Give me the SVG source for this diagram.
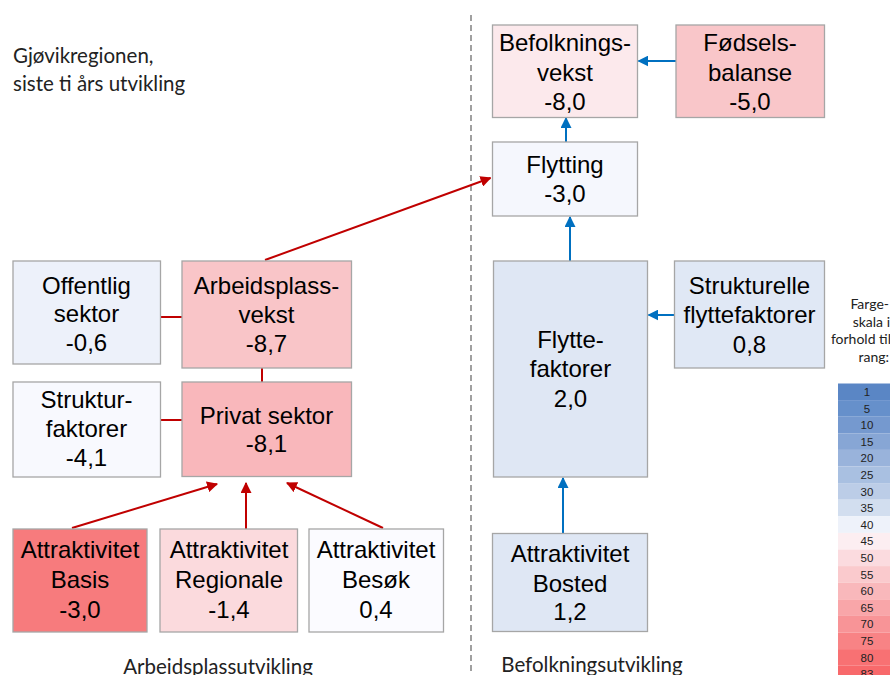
<svg xmlns="http://www.w3.org/2000/svg" width="890" height="675" viewBox="0 0 890 675">
<style>
.box{stroke:#A6A6A6;stroke-width:1.3}
.t{font-family:"Liberation Sans",Arial,sans-serif;font-size:24px;fill:#000;text-anchor:middle}
.c{font-family:Lato,"Open Sans",sans-serif;fill:#222}
.red{stroke:#C00000;stroke-width:2;fill:none}
.blue{stroke:#0070C0;stroke-width:2;fill:none}
.sc{font-family:"Liberation Sans",Arial,sans-serif;font-size:11.5px;fill:#222;text-anchor:middle}
</style>
<defs>
<marker id="ar" viewBox="0 0 10 10" refX="9" refY="5" markerWidth="5.5" markerHeight="5.5" orient="auto" markerUnits="strokeWidth"><path d="M0,0 L10,5 L0,10 z" fill="#C00000"/></marker>
<marker id="ab" viewBox="0 0 10 10" refX="9" refY="5" markerWidth="5.5" markerHeight="5.5" orient="auto" markerUnits="strokeWidth"><path d="M0,0 L10,5 L0,10 z" fill="#0070C0"/></marker>
</defs>
<rect width="890" height="675" fill="#fff"/>
<text class="c" font-size="20.5" x="13" y="63">Gjøvikregionen,</text>
<text class="c" font-size="20.5" x="13" y="91">siste ti års utvikling</text>
<line x1="471" y1="15" x2="471" y2="675" stroke="#A0A0A0" stroke-width="2" stroke-dasharray="6,4"/>
<g id="connectors">
<line class="red" x1="160" y1="317" x2="182" y2="317"/>
<line class="red" x1="160" y1="420" x2="182" y2="420"/>
<line class="red" x1="262" y1="368" x2="262" y2="382"/>
<line class="red" x1="265" y1="260" x2="490.5" y2="178" marker-end="url(#ar)"/>
<line class="red" x1="72" y1="528" x2="217" y2="484" marker-end="url(#ar)"/>
<line class="red" x1="246" y1="529" x2="246" y2="483" marker-end="url(#ar)"/>
<line class="red" x1="383" y1="528" x2="287" y2="483" marker-end="url(#ar)"/>
<line class="blue" x1="676" y1="61" x2="638.5" y2="61" marker-end="url(#ab)"/>
<line class="blue" x1="566" y1="142" x2="566" y2="118" marker-end="url(#ab)"/>
<line class="blue" x1="570" y1="261" x2="570" y2="217" marker-end="url(#ab)"/>
<line class="blue" x1="675" y1="315" x2="648.5" y2="315" marker-end="url(#ab)"/>
<line class="blue" x1="563" y1="533" x2="563" y2="478" marker-end="url(#ab)"/>
</g>
<g id="offentlig">
<rect class="box" x="13" y="261" width="147.5" height="103" fill="#EDF1FA"/>
<text class="t" x="86.5" y="294">Offentlig</text><text class="t" x="86.5" y="322">sektor</text><text class="t" x="86.5" y="351">-0,6</text>
</g>
<g id="arbeidsplassvekst">
<rect class="box" x="182" y="261" width="169.5" height="107" fill="#F9C5C8"/>
<text class="t" x="266.5" y="294">Arbeidsplass-</text><text class="t" x="266.5" y="323">vekst</text><text class="t" x="266.5" y="352">-8,7</text>
</g>
<g id="strukturfaktorer">
<rect class="box" x="13" y="382" width="147.5" height="95" fill="#F8F9FE"/>
<text class="t" x="86.5" y="408">Struktur-</text><text class="t" x="86.5" y="437">faktorer</text><text class="t" x="86.5" y="466">-4,1</text>
</g>
<g id="privat">
<rect class="box" x="182" y="382" width="169.5" height="94.5" fill="#F9B7BB"/>
<text class="t" x="266.5" y="424">Privat sektor</text><text class="t" x="266.5" y="452">-8,1</text>
</g>
<g id="basis">
<rect class="box" x="13" y="529" width="134" height="103" fill="#F77B7D"/>
<text class="t" x="80" y="558">Attraktivitet</text><text class="t" x="80" y="588">Basis</text><text class="t" x="80" y="618">-3,0</text>
</g>
<g id="regionale">
<rect class="box" x="160" y="529" width="137.5" height="103" fill="#FBDADD"/>
<text class="t" x="229" y="558">Attraktivitet</text><text class="t" x="229" y="588">Regionale</text><text class="t" x="229" y="618">-1,4</text>
</g>
<g id="besok">
<rect class="box" x="309" y="529" width="134.5" height="103" fill="#FBFBFF"/>
<text class="t" x="376" y="558">Attraktivitet</text><text class="t" x="376" y="588">Besøk</text><text class="t" x="376" y="618">0,4</text>
</g>
<g id="befolkningsvekst">
<rect class="box" x="492.5" y="25" width="145" height="92.5" fill="#FCE9EC"/>
<text class="t" x="565" y="51">Befolknings-</text><text class="t" x="565" y="81">vekst</text><text class="t" x="565" y="110">-8,0</text>
</g>
<g id="fodselsbalanse">
<rect class="box" x="676" y="25" width="148.5" height="92.5" fill="#F9C6C9"/>
<text class="t" x="750" y="51">Fødsels-</text><text class="t" x="750" y="81">balanse</text><text class="t" x="750" y="110">-5,0</text>
</g>
<g id="flytting">
<rect class="box" x="492.5" y="142" width="145" height="74" fill="#F5F7FD"/>
<text class="t" x="565" y="173">Flytting</text><text class="t" x="565" y="202">-3,0</text>
</g>
<g id="flyttefaktorer">
<rect class="box" x="493.5" y="261" width="154" height="216" fill="#DFE7F4"/>
<text class="t" x="570.5" y="348">Flytte-</text><text class="t" x="570.5" y="377">faktorer</text><text class="t" x="570.5" y="407">2,0</text>
</g>
<g id="strukturelle">
<rect class="box" x="674.5" y="261" width="150" height="107" fill="#E0E8F5"/>
<text class="t" x="749.5" y="294">Strukturelle</text><text class="t" x="749.5" y="323">flyttefaktorer</text><text class="t" x="749.5" y="353">0,8</text>
</g>
<g id="bosted">
<rect class="box" x="492.5" y="533.5" width="155" height="98" fill="#DFE7F4"/>
<text class="t" x="570" y="562">Attraktivitet</text><text class="t" x="570" y="592">Bosted</text><text class="t" x="570" y="620">1,2</text>
</g>
<text class="c" font-size="20.5" x="218" y="674" text-anchor="middle">Arbeidsplassutvikling</text>
<text class="c" font-size="20.5" x="592" y="672" text-anchor="middle">Befolkningsutvikling</text>
<g id="legend">
<text class="c" font-size="14" text-anchor="end" x="889" y="309">Farge-</text>
<text class="c" font-size="14" text-anchor="end" x="890" y="327">skala i</text>
<text class="c" font-size="14" text-anchor="end" x="891" y="344">forhold til</text>
<text class="c" font-size="14" text-anchor="end" x="889" y="362">rang:</text>
<rect x="838" y="383.5" width="60" height="16.6" fill="#5A86C5"/>
<rect x="838" y="400.1" width="60" height="16.6" fill="#6690CB"/>
<rect x="838" y="416.7" width="60" height="16.6" fill="#7599CF"/>
<rect x="838" y="433.3" width="60" height="16.6" fill="#87A6D5"/>
<rect x="838" y="449.9" width="60" height="16.6" fill="#99B3DB"/>
<rect x="838" y="466.5" width="60" height="16.6" fill="#A9C0E1"/>
<rect x="838" y="483.1" width="60" height="16.6" fill="#BCCDE7"/>
<rect x="838" y="499.7" width="60" height="16.6" fill="#D2DEEF"/>
<rect x="838" y="516.3" width="60" height="16.6" fill="#EEF2FA"/>
<rect x="838" y="532.9" width="60" height="16.6" fill="#FCEEF1"/>
<rect x="838" y="549.5" width="60" height="16.6" fill="#FBDBDF"/>
<rect x="838" y="566.1" width="60" height="16.6" fill="#FACACD"/>
<rect x="838" y="582.7" width="60" height="16.6" fill="#F9B8BB"/>
<rect x="838" y="599.3" width="60" height="16.6" fill="#F9A6A9"/>
<rect x="838" y="615.9" width="60" height="16.6" fill="#F89497"/>
<rect x="838" y="632.5" width="60" height="16.6" fill="#F88385"/>
<rect x="838" y="649.1" width="60" height="16.6" fill="#F87173"/>
<rect x="838" y="665.7" width="60" height="16.6" fill="#F8696B"/>
<text class="sc" x="867" y="396">1</text>
<text class="sc" x="867" y="412.6">5</text>
<text class="sc" x="867" y="429.2">10</text>
<text class="sc" x="867" y="445.8">15</text>
<text class="sc" x="867" y="462.4">20</text>
<text class="sc" x="867" y="479">25</text>
<text class="sc" x="867" y="495.6">30</text>
<text class="sc" x="867" y="512.2">35</text>
<text class="sc" x="867" y="528.8">40</text>
<text class="sc" x="867" y="545.4">45</text>
<text class="sc" x="867" y="562">50</text>
<text class="sc" x="867" y="578.6">55</text>
<text class="sc" x="867" y="595.2">60</text>
<text class="sc" x="867" y="611.8">65</text>
<text class="sc" x="867" y="628.4">70</text>
<text class="sc" x="867" y="645">75</text>
<text class="sc" x="867" y="661.6">80</text>
<text class="sc" x="867" y="678.2">83</text>
</g>
</svg>
